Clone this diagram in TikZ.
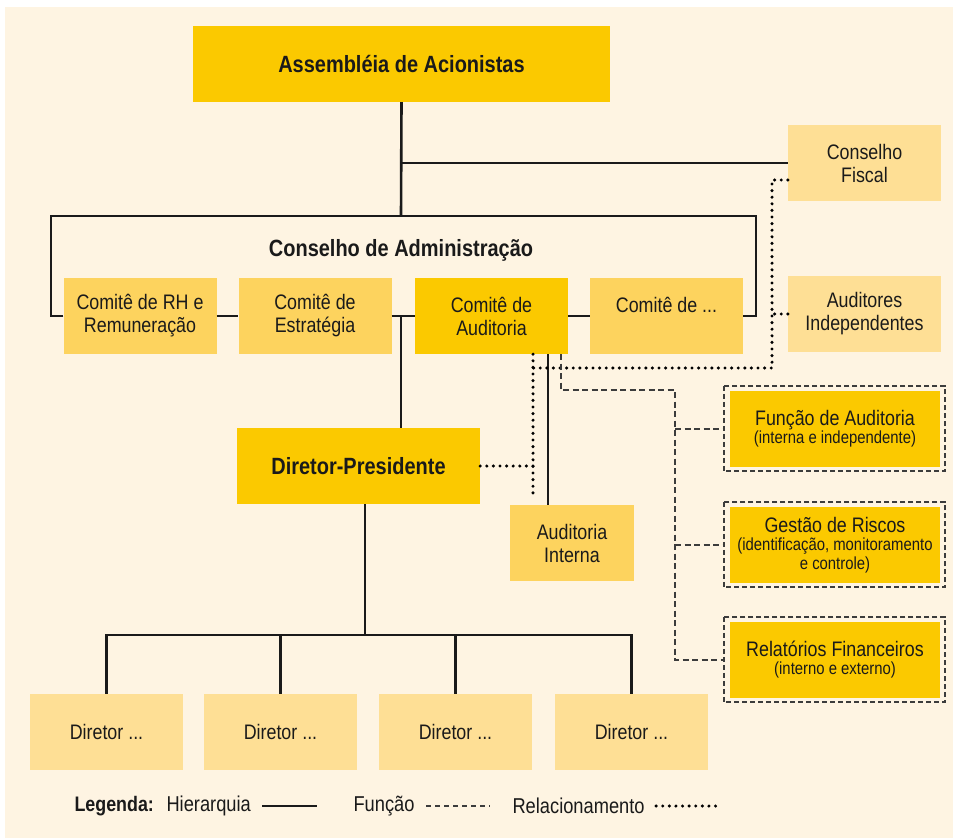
\documentclass[tikz,border=0pt]{standalone}
\usepackage{fontspec}
\setmainfont{Liberation Sans}[FakeStretch=0.85]
\usepackage{xcolor}
\usetikzlibrary{calc}
\definecolor{bgcream}{HTML}{FEF4E2}
\definecolor{gold}{HTML}{FBC900}
\definecolor{amber}{HTML}{FDD35E}
\definecolor{sand}{HTML}{FEDF95}
\definecolor{ink}{HTML}{1A1A1A}

\begin{document}
\begin{tikzpicture}[
    x=1pt, y=-1pt,
    every node/.style={font=\fontsize{21}{23}\selectfont, text=ink},
    box/.style={rectangle, fill=amber, minimum width=153pt, minimum height=76pt, align=center, inner sep=0pt},
    pale/.style={box, fill=sand},
    key/.style={box, fill=gold},
    title/.style={font=\fontsize{23.5}{26}\selectfont\bfseries},
    hier/.style={draw=ink, line width=2.6pt},
    func/.style={draw=ink!85, line width=1.7pt, dash pattern=on 6pt off 3.5pt},
    rel/.style={draw=black, line width=3.4pt, line cap=round, dash pattern=on 0pt off 6.6pt},
    frame/.style={draw=ink!85, line width=1.7pt, dash pattern=on 5pt off 3pt},
    legend/.style={anchor=west, font=\fontsize{21.5}{23}\selectfont},
]
\useasboundingbox (0,0) rectangle (953,838);
\fill[bgcream] (5,7) rectangle (953,838);

% top of the chart
\node[key, title, minimum width=417pt] (assembleia) at (401.5,64) {Assembléia de Acionistas};
\node[pale] (fiscal) at (864.5,163) {Conselho\\Fiscal};
\node[title] (conselho) at (401,250) {Conselho de Administração};
\node[box] (rh) at (140,316) {Comitê de RH e\\Remuneração};
\node[box] (estrat) at (315,316) {Comitê de\\Estratégia};
\node[key] (audit) at (491.5,316) {Comitê de\\Auditoria};
\node[box] (outros) at (666.5,316) {Comitê de ...\\\mbox{}};
\node[pale] (auditores) at (864.5,314) {Auditores\\Independentes};

% management
\node[key, title, minimum width=243pt] (presidente) at (358.5,466) {Diretor-Presidente};
\node[box, minimum width=124pt] (interna) at (572,543) {Auditoria\\Interna};
\node[pale] (dir1) at (106.5,732) {Diretor ...};
\node[pale] (dir2) at (280.5,732) {Diretor ...};
\node[pale] (dir3) at (455.5,732) {Diretor ...};
\node[pale] (dir4) at (631.5,732) {Diretor ...};

% audit functions
\node[key, minimum width=210pt] (func) at (835,429) {Função de Auditoria\\[-5pt]{\fontsize{17.5}{18}\selectfont (interna e independente)}};
\node[key, minimum width=210pt] (risk) at (835,545) {Gestão de Riscos\\[-5pt]{\fontsize{17.5}{18}\selectfont (identificação, monitoramento}\\[-4pt]{\fontsize{17.5}{18}\selectfont e controle)}};
\node[key, minimum width=210pt] (fin) at (835,660) {Relatórios Financeiros\\[-5pt]{\fontsize{17.5}{18}\selectfont (interno e externo)}};
\foreach \n in {func,risk,fin}
    \draw[frame] ([xshift=-6pt,yshift=5pt]\n.north west) rectangle ([xshift=5pt,yshift=-4pt]\n.south east);

\coordinate (cadm) at (401,216);
\coordinate (bl) at (51,216);
\coordinate (br) at (756,216);
\coordinate (dj) at (365,635);
\coordinate (rv) at (772,368);
\coordinate (rx) at (533,368);
\coordinate (fv) at (675,390);

% hierarchy
\draw[hier] (assembleia.south) -- (cadm);
\draw[hier] (fiscal.west) -- (fiscal.west -| cadm);
\draw[hier] (rh.west) -| (bl) -- (br) |- (outros.east);
\draw[hier] (rh) -- (estrat);
\draw[hier] (estrat) -- (audit);
\draw[hier] (audit) -- (outros);
\draw[hier] (cadm |- estrat.east) -- (cadm |- presidente.north);
\draw[hier] ([xshift=-24pt]interna.north) -- ([xshift=-24pt]interna.north |- audit.south);
\draw[hier] ([xshift=6.5pt]presidente.south) -- (dj);
\draw[hier] (dir1.north) -- (dir1.north |- dj) -- (dir4.north |- dj) -- (dir4.north);
\foreach \d in {dir2,dir3}
    \draw[hier] (\d.north) -- (\d.north |- dj);

% relationship
\draw[rel] ([yshift=-17pt]fiscal.west) -| (rv) -- (rx);
\draw[rel] (auditores.west) -- (auditores.west -| rv);
\draw[rel] (audit.south -| rx) -- ([yshift=7pt]interna.north -| rx);
\draw[rel] (presidente.east) -- (presidente.east -| rx);

% function
\draw[func] ([xshift=69.5pt]audit.south) |- (fv) -- (fv |- fin) -- ([xshift=-6pt]fin.west);
\draw[func] (fv |- func) -- ([xshift=-6pt]func.west);
\draw[func] (fv |- risk) -- ([xshift=-6pt]risk.west);

% legend
\node[legend, font=\fontsize{21}{23}\selectfont\bfseries] (leg) at (71,806) {Legenda:};
\node[legend] (lhier) at (163,806) {Hierarquia};
\draw[hier] ([xshift=8pt]lhier.east) -- ++(55,0);
\node[legend] (lfunc) at (350,806) {Função};
\draw[func, dash pattern=on 5pt off 4pt] ([xshift=8pt]lfunc.east) -- ++(64,0);
\node[legend] (lrel) at (509,806) {Relacionamento};
\draw[rel] ([xshift=8pt]lrel.east) -- ++(62,0);
\end{tikzpicture}
\end{document}
